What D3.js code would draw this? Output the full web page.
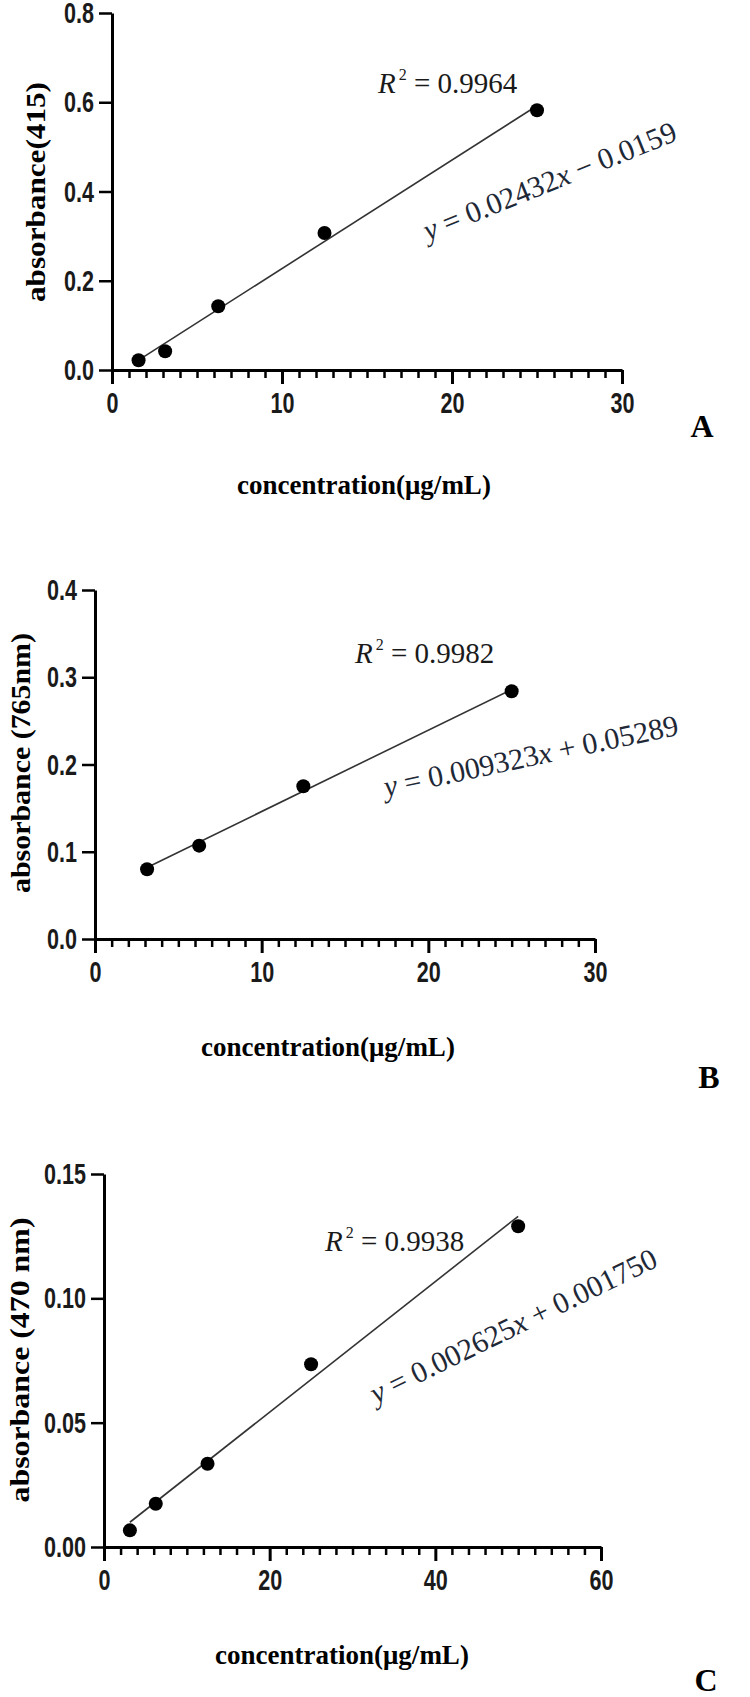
<!DOCTYPE html>
<html>
<head>
<meta charset="utf-8">
<script src="https://cdn.jsdelivr.net/npm/d3@7"></script>
<style>
  body { margin: 0; background: #fff; }
  .tick text { font-family: "Liberation Sans", Arial, sans-serif; }
</style>
</head>
<body>
<div id="views"></div>
<script>
// panel A
var concA = [1.5625, 3.125, 6.25, 12.5, 25];
var absA = [0.022, 0.042, 0.143, 0.307, 0.582];
var fitA = [0.02432, -0.0159];
var r2A = "0.9964";
var eqA = ["0.02432", "\u2212 0.0159"];
var xTicksA = [0, 10, 20, 30];
var yTicksA = [0, 0.2, 0.4, 0.6, 0.8];

// panel B
var concB = [3.125, 6.25, 12.5, 25];
var absB = [0.080, 0.107, 0.175, 0.284];
var fitB = [0.009323, 0.05289];
var r2B = "0.9982";
var eqB = ["0.009323", "+ 0.05289"];
var xTicksB = [0, 10, 20, 30];
var yTicksB = [0, 0.1, 0.2, 0.3, 0.4];

// panel C
var concC = [3.125, 6.25, 12.5, 25, 50];
var absC = [0.0067, 0.0174, 0.0335, 0.0735, 0.129];
var fitC = [0.002625, 0.001750];
var r2C = "0.9938";
var eqC = ["0.002625", "+ 0.001750"];
var xTicksC = [0, 20, 40, 60];
var yTicksC = [0, 0.05, 0.10, 0.15];

var xTitle = "concentration(\u03bcg/mL)";
var yTitles = ["absorbance(415)", "absorbance (765nm)", "absorbance (470 nm)"];
var panelNames = ["A", "B", "C"];

var W = 750, H = 1697;
var serif = "'Liberation Serif', 'Times New Roman', serif";
var narrow = 0.72; // tick labels are a narrow sans

// layout of each panel (pixels)
var layout = [
  {x0: 112, x1: 622, y0: 370, y1: 13, minor: 1, fmt: ".1f",
   yt: [35, 192], xt: [364, 494], name: [702, 437],
   r2: [378, 93], eq: [428, 241, -22], ylen: 220},
  {x0: 95, x1: 595, y0: 939, y1: 590, minor: 1, fmt: ".1f",
   yt: [20, 763], xt: [328, 1056], name: [709, 1088],
   r2: [355, 663], eq: [386, 797, -12], ylen: 260},
  {x0: 104, x1: 601, y0: 1547, y1: 1174, minor: 2, fmt: ".2f",
   yt: [19, 1360], xt: [342, 1664], name: [706, 1691],
   r2: [325, 1251], eq: [376, 1404, -26], ylen: 285}
];

var panels = [
  {conc: concA, abs: absA, fit: fitA, r2: r2A, eq: eqA, xt: xTicksA, yt: yTicksA},
  {conc: concB, abs: absB, fit: fitB, r2: r2B, eq: eqB, xt: xTicksB, yt: yTicksB},
  {conc: concC, abs: absC, fit: fitC, r2: r2C, eq: eqC, xt: xTicksC, yt: yTicksC}
];

var svg = d3.select("#views").append("svg")
  .attr("width", W).attr("height", H)
  .style("display", "block");

function squeeze(sel) {
  sel.each(function() {
    var t = d3.select(this);
    var tx = +t.attr("x") || 0;
    t.attr("x", tx / narrow).attr("transform", "scale(" + narrow + ",1)");
  });
}

function drawPanel(p, L, i) {
  var xMax = p.xt[p.xt.length - 1], yMax = p.yt[p.yt.length - 1];
  var x = d3.scaleLinear().domain([0, xMax]).range([L.x0, L.x1]);
  var y = d3.scaleLinear().domain([0, yMax]).range([L.y0, L.y1]);
  var g = svg.append("g");

  // minor x ticks
  var minorVals = d3.range(0, xMax + 0.001, L.minor).filter(function(v) { return p.xt.indexOf(v) < 0; });
  var gMinor = g.append("g").attr("transform", "translate(0," + L.y0 + ")")
    .call(d3.axisBottom(x).tickValues(minorVals).tickSize(8).tickSizeOuter(0).tickFormat(""));
  gMinor.select(".domain").remove();
  gMinor.selectAll("line").attr("stroke", "#000").attr("stroke-width", 2.5);

  // major x
  var gx = g.append("g").attr("transform", "translate(0," + L.y0 + ")")
    .call(d3.axisBottom(x).tickValues(p.xt).tickSize(14).tickSizeOuter(0).tickPadding(8).tickFormat(d3.format("d")));
  gx.select(".domain").attr("stroke", "#000").attr("stroke-width", 3);
  gx.selectAll("line").attr("stroke", "#000").attr("stroke-width", 3);
  gx.selectAll("text").attr("font-size", 30).attr("font-weight", "bold").attr("fill", "#1a1a1a").call(squeeze);

  // y axis
  var gy = g.append("g").attr("transform", "translate(" + L.x0 + ",0)")
    .call(d3.axisLeft(y).tickValues(p.yt).tickSize(13).tickSizeOuter(0).tickPadding(5).tickFormat(d3.format(L.fmt)));
  gy.select(".domain").attr("stroke", "#000").attr("stroke-width", 3);
  gy.selectAll("line").attr("stroke", "#000").attr("stroke-width", 2.5);
  gy.selectAll("text").attr("font-size", 30).attr("font-weight", "bold").attr("fill", "#1a1a1a").call(squeeze);

  // fitted line
  var x0 = p.conc[0], x1 = p.conc[p.conc.length - 1];
  g.append("line")
    .attr("x1", x(x0)).attr("y1", y(p.fit[0] * x0 + p.fit[1]))
    .attr("x2", x(x1)).attr("y2", y(p.fit[0] * x1 + p.fit[1]))
    .attr("stroke", "#333").attr("stroke-width", 1.6);

  // points
  g.selectAll("circle.pt").data(p.conc).enter().append("circle")
    .attr("class", "pt")
    .attr("cx", function(d) { return x(d); })
    .attr("cy", function(d, j) { return y(p.abs[j]); })
    .attr("r", 7)
    .attr("fill", "#000");

  // R^2
  var r2 = g.append("text").attr("x", L.r2[0]).attr("y", L.r2[1])
    .attr("font-family", serif).attr("font-size", 29).attr("fill", "#1a1a1a");
  r2.append("tspan").attr("font-style", "italic").text("R");
  r2.append("tspan").attr("font-size", 16).attr("dy", -13).attr("dx", 3).text("2");
  r2.append("tspan").attr("dy", 13).text(" = " + p.r2);

  // equation
  var eq = g.append("text")
    .attr("transform", "translate(" + L.eq[0] + "," + L.eq[1] + ") rotate(" + L.eq[2] + ")")
    .attr("font-family", serif).attr("font-size", 30).attr("fill", "#1e2836");
  eq.append("tspan").attr("font-style", "italic").text("y");
  eq.append("tspan").text(" = " + p.eq[0]);
  eq.append("tspan").attr("font-style", "italic").text("x");
  eq.append("tspan").text(" " + p.eq[1]);

  // axis titles
  g.append("text")
    .attr("transform", "translate(" + L.yt[0] + "," + L.yt[1] + ") rotate(-90)")
    .attr("text-anchor", "middle").attr("dominant-baseline", "central")
    .attr("font-family", serif).attr("font-weight", "bold").attr("font-size", 28)
    .attr("textLength", L.ylen).attr("lengthAdjust", "spacingAndGlyphs")
    .text(yTitles[i]);

  g.append("text")
    .attr("x", L.xt[0]).attr("y", L.xt[1])
    .attr("text-anchor", "middle")
    .attr("font-family", serif).attr("font-weight", "bold").attr("font-size", 27)
    .text(xTitle);

  g.append("text")
    .attr("x", L.name[0]).attr("y", L.name[1])
    .attr("text-anchor", "middle")
    .attr("font-family", serif).attr("font-weight", "bold").attr("font-size", 32)
    .text(panelNames[i]);
}

panels.forEach(function(p, i) { drawPanel(p, layout[i], i); });
</script>
</body>
</html>
